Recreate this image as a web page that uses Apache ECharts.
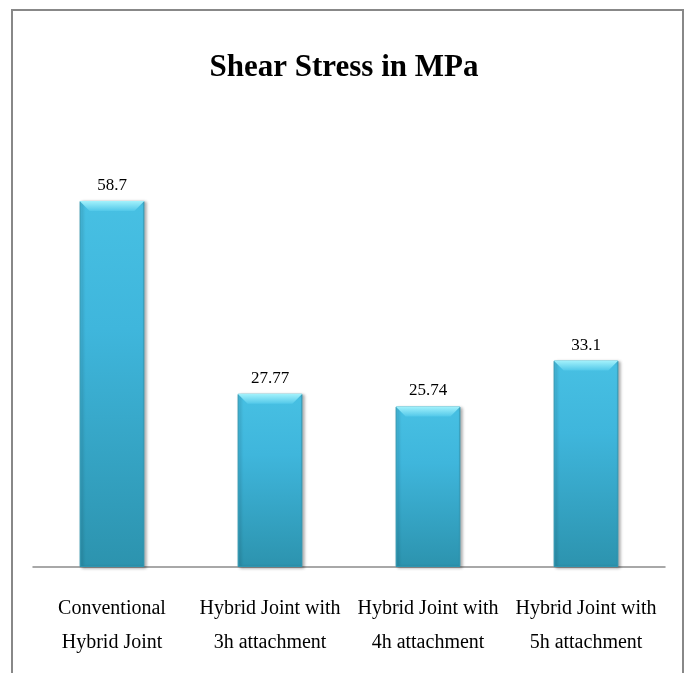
<!DOCTYPE html>
<html>
<head>
<meta charset="utf-8">
<script src="https://cdn.jsdelivr.net/npm/echarts@6/dist/echarts.min.js"></script>
<style>
  html, body { margin: 0; padding: 0; background: #fff; }
  #chart { width: 688px; height: 673px; }
</style>
</head>
<body>
<div id="chart"></div>
<script>
// chart data
const categories = [
  'Conventional\nHybrid Joint',
  'Hybrid Joint with\n3h attachment',
  'Hybrid Joint with\n4h attachment',
  'Hybrid Joint with\n5h attachment'
]
const shearStress = [58.7, 27.77, 25.74, 33.1]
const valueLabels = ['58.7', '27.77', '25.74', '33.1']

const font = 'Liberation Serif'

let chart = echarts.init(document.getElementById('chart'))

let barColor = new echarts.graphic.LinearGradient(0, 0, 0, 1, [
  {offset: 0, color: '#47c0e3'},
  {offset: 0.35, color: '#3fb6dc'},
  {offset: 1, color: '#2c93ae'}
])

// bevel on top of each bar, placed with the axis scales
function renderBevel(params, api) {
  let top = api.coord([api.value(0), api.value(1)])
  let w = api.size([1, 0])[0] * 0.41
  let x0 = top[0] - w / 2, x1 = top[0] + w / 2, y0 = top[1]
  let b = 10
  return {
    type: 'polygon',
    shape: {points: [[x0, y0], [x1, y0], [x1 - b, y0 + b], [x0 + b, y0 + b]]},
    style: {fill: new echarts.graphic.LinearGradient(0, 0, 0, 1, [
      {offset: 0, color: '#a4f2fc'},
      {offset: 1, color: '#52c8e9'}
    ])}
  }
}

let option = {
  backgroundColor: '#fff',
  animation: false,
  title: {
    text: 'Shear Stress in MPa',
    left: 'center',
    top: 47,
    textStyle: {fontFamily: font, fontSize: 31, fontWeight: 'bold', color: '#000'}
  },
  graphic: [{
    type: 'rect',
    shape: {x: 12, y: 10, width: 671, height: 700},
    style: {fill: 'none', stroke: '#888', lineWidth: 2},
    silent: true
  }],
  grid: {left: 33, right: 23, top: 130.5, bottom: 106},
  xAxis: {
    type: 'category',
    data: categories,
    axisLine: {lineStyle: {color: '#8c8c8c', width: 1.5}},
    axisTick: {show: false},
    axisLabel: {
      margin: 25,
      fontFamily: font,
      fontSize: 20,
      lineHeight: 34,
      color: '#000',
      interval: 0
    }
  },
  yAxis: {
    type: 'value',
    min: 0,
    max: 70,
    show: false,
    splitLine: {show: false}
  },
  series: [{
    type: 'bar',
    data: shearStress,
    barWidth: '41%',
    itemStyle: {
      color: barColor,
      borderColor: '#2f95b0',
      borderWidth: 1,
      shadowColor: 'rgba(0,0,0,0.3)',
      shadowBlur: 3,
      shadowOffsetX: 2,
      shadowOffsetY: 1
    },
    label: {
      show: true,
      position: 'top',
      distance: 7,
      fontFamily: font,
      fontSize: 17,
      color: '#000',
      formatter: p => valueLabels[p.dataIndex]
    }
  }, {
    type: 'custom',
    data: shearStress.map((v, i) => [i, v]),
    renderItem: renderBevel,
    silent: true,
    z: 3
  }]
}

chart.setOption(option)
</script>
</body>
</html>
